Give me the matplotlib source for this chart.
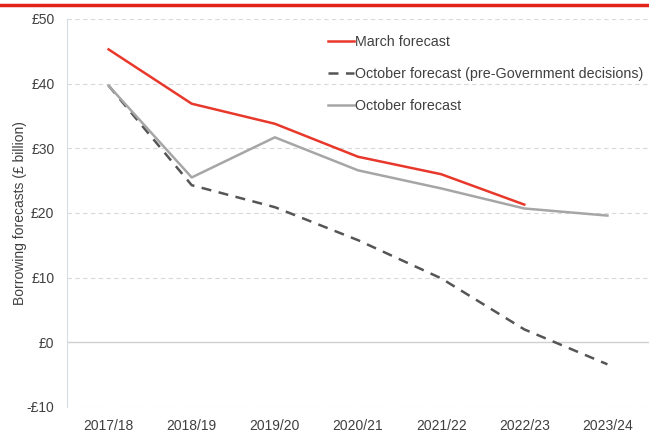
import numpy as np
import matplotlib.pyplot as plt

years = ['2017/18', '2018/19', '2019/20', '2020/21', '2021/22', '2022/23', '2023/24']
march = [45.3, 36.9, 33.8, 28.7, 26.0, 21.3]
october_pre = [39.7, 24.3, 20.9, 15.8, 9.9, 2.0, -3.4]
october = [39.7, 25.5, 31.7, 26.6, 23.8, 20.7, 19.6]

plt.rcParams['font.family'] = ['Liberation Sans', 'DejaVu Sans']

fig = plt.figure(figsize=(6.49, 4.33), dpi=100)
ax = fig.add_axes([67/649, (433-407)/433, (649-67)/649, 388/433])

# red rule across the top
fig.add_artist(plt.Line2D([0, 1], [1-4.5/433, 1-4.5/433], color='#e2231a', lw=2.5, transform=fig.transFigure))

x = np.arange(len(years))
ax.plot(x[:len(march)], march, color='#e8382b', lw=1.8, label='March forecast')
ax.plot(x, october_pre, color='#555555', lw=1.8, dashes=(4, 3), label='October forecast (pre-Government decisions)')
ax.plot(x, october, color='#a6a6a6', lw=1.8, label='October forecast')

ax.set_xlim(-0.5, 6.5)
ax.set_ylim(-10, 50)
ax.set_yticks(range(-10, 51, 10))
ax.set_yticklabels(['-£10', '£0', '£10', '£20', '£30', '£40', '£50'])
ax.set_xticks(x)
ax.set_xticklabels(years)

for v in range(-10, 51, 10):
    if v == 0:
        ax.axhline(v, color='#d0d0d0', lw=1, zorder=0)
    else:
        ax.axhline(v, color='#d9d9d9', lw=0.8, ls=(0, (4, 3)), zorder=0)

for s in ['top', 'right', 'bottom']:
    ax.spines[s].set_visible(False)
ax.spines['left'].set_color('#d6dce5')
ax.tick_params(length=0, labelsize=10, colors='#404040', pad=9)
ax.tick_params(axis='x', pad=9)
ax.set_ylabel('Borrowing forecasts (£ billion)', fontsize=10, color='#404040', labelpad=0)

leg = ax.legend(loc='upper left', bbox_to_anchor=(0.4266, 0.993), frameon=False, fontsize=10.3,
                handlelength=1.8, handletextpad=0.1, labelspacing=1.26, labelcolor='#404040')

fig.savefig('out.png', dpi=100)
